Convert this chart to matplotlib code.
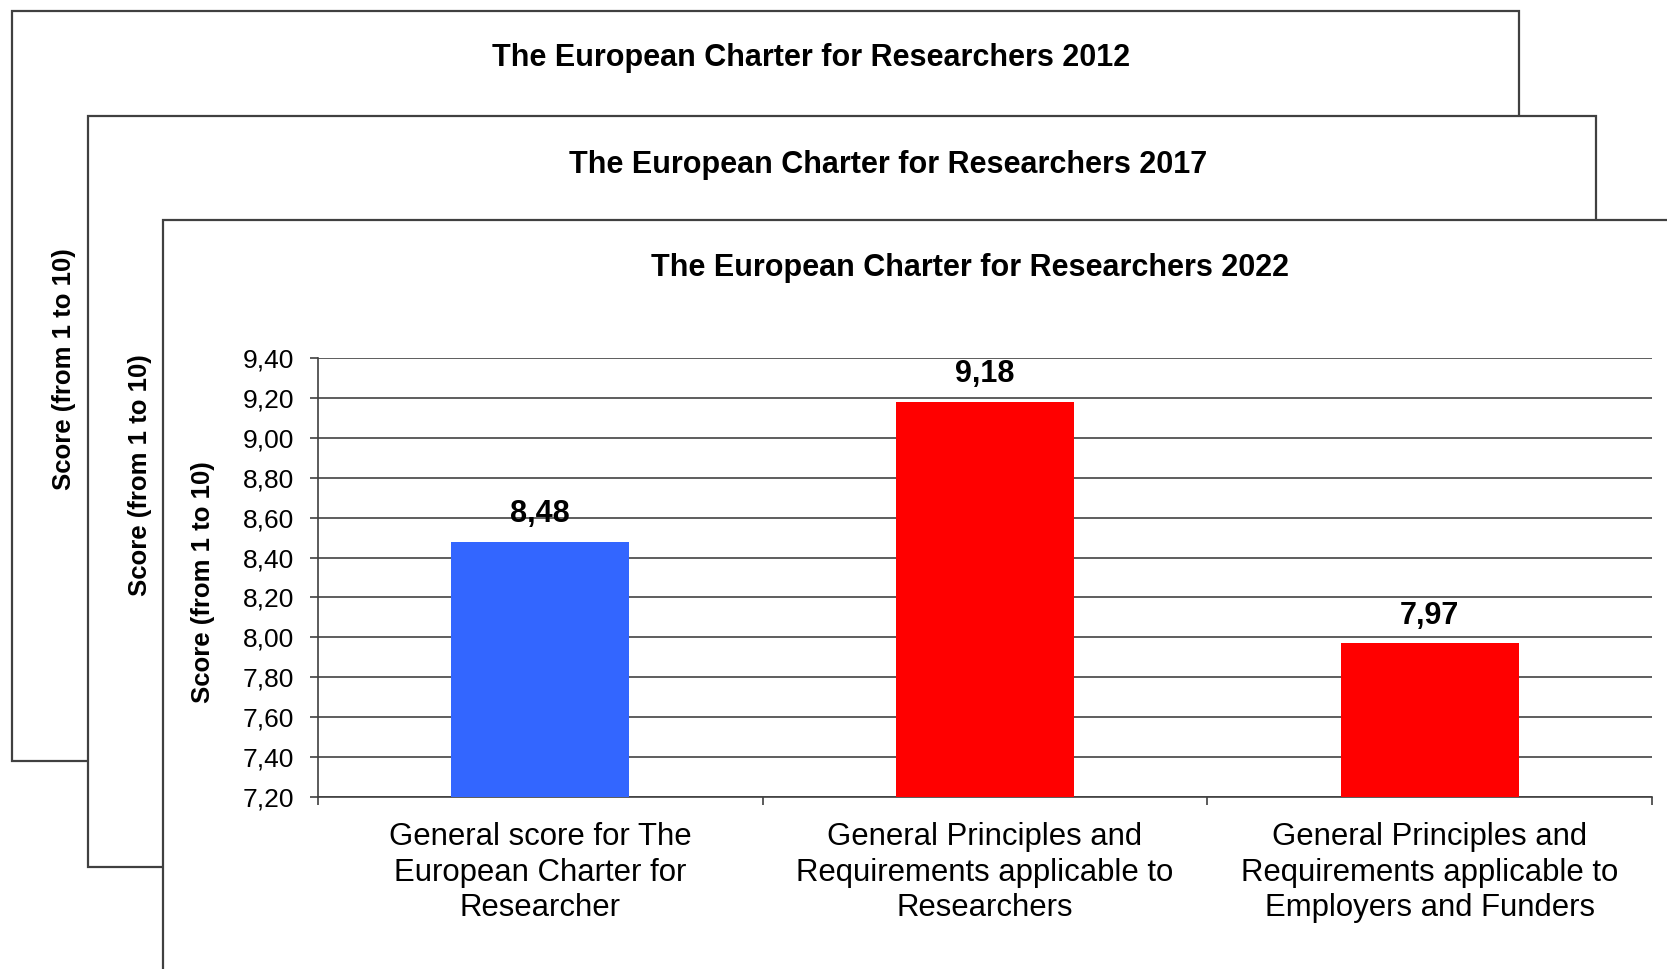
import matplotlib
matplotlib.use('Agg')

import matplotlib.pyplot as plt
from matplotlib.patches import Rectangle
from matplotlib.ticker import FuncFormatter, MultipleLocator

plt.rcParams['font.family'] = ['Liberation Sans', 'DejaVu Sans']

# 데이터
categories = [
    'General score for The\nEuropean Charter for\nResearcher',
    'General Principles and\nRequirements applicable to\nResearchers',
    'General Principles and\nRequirements applicable to\nEmployers and Funders',
]
scores = [8.48, 9.18, 7.97]
bar_colors = ['#3366FF', '#FF0000', '#FF0000']
years = ['2012', '2017', '2022']
y_label = 'Score (from 1 to 10)'

W, H = 1667, 969
fig = plt.figure(figsize=(W / 100, H / 100), dpi=100)


def fx(px):
    return px / W


def fy(py):
    return 1 - py / H


# 뒤쪽 패널 (left, top, right, bottom in pixels), 제목 위치, y라벨 위치
panels = [
    (12, 11, 1519, 761),
    (88, 116, 1596, 867),
    (163, 220, 1720, 1020),
]
title_pos = [(811, 58), (888, 165), (970, 268)]
ylab_pos = [(64, 369), (140, 475), (215, 582)]

for i, (l, t, r, b) in enumerate(panels):
    rect = Rectangle((fx(l), fy(b)), fx(r) - fx(l), fy(t) - fy(b),
                     transform=fig.transFigure, facecolor='white',
                     edgecolor='#404040', linewidth=1.6, zorder=1 + 2 * i)
    fig.patches.append(rect)
    tx, ty = title_pos[i]
    fig.text(fx(tx), fy(ty), 'The European Charter for Researchers ' + years[i],
             ha='center', va='center', fontsize=22, fontweight='bold',
             zorder=2 + 2 * i)
    if i < 2:
        lx, ly = ylab_pos[i]
        fig.text(fx(lx), fy(ly), y_label, rotation=90, ha='center', va='center',
                 fontsize=18.5, fontweight='bold', zorder=2 + 2 * i)

# 2022 차트
ax = fig.add_axes([fx(318), fy(797), fx(1652) - fx(318), fy(358) - fy(797)])
ax.set_zorder(10)
ax.patch.set_alpha(0)

x = range(len(scores))
bars = ax.bar(x, scores, width=0.4, color=bar_colors, zorder=3)
ax.bar_label(bars, labels=[f'{v:.2f}'.replace('.', ',') for v in scores],
             padding=9, fontsize=22, fontweight='bold')

ax.set_xlim(-0.5, len(scores) - 0.5)
ax.set_ylim(7.2, 9.4)
ax.yaxis.set_major_locator(MultipleLocator(0.2))
ax.yaxis.set_major_formatter(FuncFormatter(lambda v, p: f'{v:.2f}'.replace('.', ',')))
ax.grid(axis='y', color='#505050', linewidth=1.3, zorder=0)

ax.set_xticks(list(x))
ax.set_xticklabels(categories, fontsize=22.4, linespacing=1.24)
ax.set_xticks([i - 0.5 for i in range(len(scores) + 1)], minor=True)
ax.tick_params(axis='x', which='major', length=0, pad=18)
ax.tick_params(axis='x', which='minor', length=6, width=1.2, color='#404040')
ax.tick_params(axis='y', length=6, width=1.2, color='#404040', labelsize=19, pad=11)

for s in ['top', 'right']:
    ax.spines[s].set_visible(False)
for s in ['left', 'bottom']:
    ax.spines[s].set_color('#404040')
    ax.spines[s].set_linewidth(1.2)

ax.set_ylabel(y_label, fontsize=18.5, fontweight='bold')
ax.yaxis.set_label_coords((215 - 318) / 1334, (797 - 582) / 439)

plt.savefig('out.png', dpi=100)
plt.close()
